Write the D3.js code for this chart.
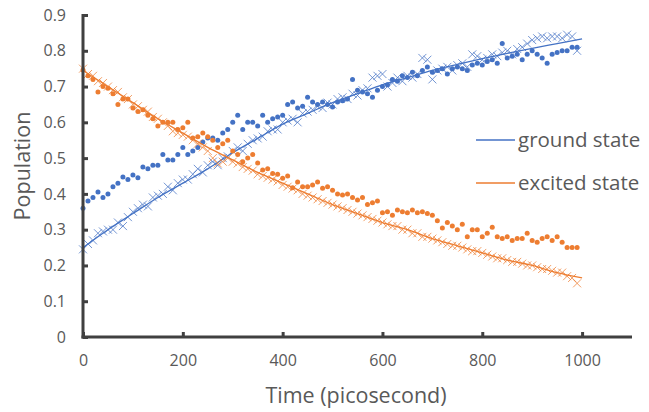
<!DOCTYPE html>
<html>
<head>
<meta charset="utf-8">
<script src="https://cdn.jsdelivr.net/npm/d3@7"></script>
<style>
  html, body { margin: 0; padding: 0; background: #fff; }
  svg text { font-family: "Open Sans", "DejaVu Sans", sans-serif; }
</style>
</head>
<body>
<svg id="chart" width="649" height="412"></svg>
<script>
// ---- data ----
const times = d3.range(0, 1000, 10); // 0, 10, ..., 990 ps sample times
const groundDots = [0.36,0.38,0.39,0.405,0.39,0.40,0.42,0.43,0.447,0.44,
  0.453,0.445,0.475,0.47,0.48,0.48,0.51,0.495,0.495,0.51,
  0.53,0.51,0.52,0.53,0.545,0.556,0.556,0.55,0.57,0.58,
  0.60,0.62,0.58,0.60,0.60,0.59,0.62,0.60,0.61,0.615,
  0.62,0.65,0.657,0.64,0.645,0.67,0.657,0.65,0.657,0.65,
  0.643,0.657,0.66,0.665,0.72,0.69,0.685,0.68,0.67,0.69,
  0.70,0.705,0.72,0.715,0.73,0.725,0.74,0.73,0.745,0.755,
  0.74,0.745,0.75,0.735,0.75,0.755,0.75,0.745,0.76,0.765,
  0.76,0.77,0.775,0.765,0.82,0.78,0.785,0.79,0.775,0.79,
  0.80,0.79,0.78,0.765,0.79,0.795,0.80,0.80,0.81,0.81];
const groundCross = [0.245,0.26,0.27,0.29,0.295,0.30,0.30,0.32,0.31,0.335,
  0.35,0.36,0.37,0.365,0.39,0.395,0.40,0.42,0.41,0.43,
  0.44,0.44,0.455,0.47,0.46,0.48,0.49,0.48,0.50,0.505,
  0.52,0.53,0.52,0.54,0.55,0.555,0.56,0.575,0.58,0.58,
  0.60,0.605,0.61,0.60,0.625,0.63,0.635,0.645,0.64,0.655,
  0.65,0.665,0.67,0.665,0.68,0.675,0.69,0.695,0.725,0.73,
  0.735,0.70,0.71,0.725,0.715,0.73,0.725,0.735,0.78,0.775,
  0.72,0.745,0.75,0.755,0.745,0.76,0.765,0.755,0.79,0.785,
  0.775,0.78,0.79,0.785,0.795,0.80,0.79,0.805,0.81,0.82,
  0.83,0.835,0.84,0.835,0.84,0.84,0.835,0.845,0.84,0.80];
const excitedDots = [0.746,0.73,0.72,0.685,0.70,0.695,0.68,0.65,0.665,0.665,
  0.64,0.63,0.635,0.62,0.61,0.59,0.60,0.60,0.60,0.58,
  0.585,0.60,0.556,0.56,0.57,0.56,0.55,0.53,0.54,0.55,
  0.52,0.51,0.49,0.50,0.51,0.486,0.467,0.47,0.457,0.455,
  0.444,0.45,0.417,0.433,0.42,0.42,0.425,0.433,0.416,0.42,
  0.41,0.40,0.397,0.40,0.39,0.383,0.39,0.37,0.375,0.38,
  0.347,0.35,0.34,0.355,0.35,0.347,0.355,0.347,0.35,0.345,
  0.34,0.325,0.305,0.32,0.31,0.30,0.315,0.28,0.30,0.30,
  0.28,0.29,0.307,0.28,0.275,0.28,0.27,0.275,0.275,0.29,
  0.27,0.265,0.275,0.28,0.27,0.28,0.265,0.25,0.25,0.25];
const excitedCross = [0.75,0.735,0.73,0.715,0.71,0.70,0.69,0.685,0.67,0.665,
  0.65,0.645,0.635,0.63,0.615,0.61,0.60,0.59,0.575,0.57,
  0.565,0.56,0.55,0.54,0.53,0.52,0.50,0.485,0.49,0.50,
  0.49,0.485,0.475,0.47,0.465,0.455,0.45,0.445,0.44,0.435,
  0.425,0.42,0.415,0.41,0.40,0.395,0.39,0.385,0.38,0.375,
  0.37,0.365,0.36,0.355,0.35,0.345,0.34,0.335,0.33,0.325,
  0.32,0.315,0.31,0.31,0.30,0.30,0.29,0.29,0.28,0.28,
  0.275,0.27,0.265,0.26,0.255,0.255,0.25,0.245,0.24,0.24,
  0.235,0.23,0.225,0.22,0.22,0.215,0.21,0.21,0.205,0.20,
  0.20,0.195,0.19,0.19,0.185,0.18,0.18,0.17,0.165,0.15];
// fitted curves
const fitTimes = [0,50,100,150,200,250,300,350,400,450,500,550,600,650,700,750,800,850,900,950,1000];
const groundFit = [0.25,0.30,0.345,0.39,0.43,0.47,0.515,0.555,0.595,0.625,0.655,0.68,0.705,0.725,0.745,0.762,0.778,0.793,0.807,0.82,0.833];
const excitedFit = [0.745,0.70,0.655,0.61,0.57,0.53,0.495,0.46,0.43,0.40,0.37,0.345,0.32,0.30,0.275,0.255,0.235,0.215,0.20,0.18,0.165];
const xTicks = [0,200,400,600,800,1000];
const yTicks = [0,0.1,0.2,0.3,0.4,0.5,0.6,0.7,0.8,0.9];
const legendLabels = ["ground state", "excited state"];
const colors = ["#4472C4", "#ED7D31"];
const xTitle = "Time (picosecond)";
const yTitle = "Population";

// ---- drawing ----
const svg = d3.select("#chart");
const x = d3.scaleLinear().domain([0, 1100]).range([83, 632]);
const y = d3.scaleLinear().domain([0, 0.9]).range([337, 15]);
const axisColor = "#404040";
const textColor = "#595959";

// series
const series = [
  {dots: groundDots, cross: groundCross, fit: groundFit, color: colors[0]},
  {dots: excitedDots, cross: excitedCross, fit: excitedFit, color: colors[1]}
];
const line = d3.line().curve(d3.curveMonotoneX).x(d => x(d[0])).y(d => y(d[1]));

series.forEach(s => {
  const g = svg.append("g");
  // crosses
  const cs = 4;
  g.selectAll("path.cross").data(times.map((t, i) => [t, s.cross[i]])).join("path")
    .attr("class", "cross")
    .attr("d", d => {
      const cx = x(d[0]), cy = y(d[1]);
      return `M${cx-cs},${cy-cs}L${cx+cs},${cy+cs}M${cx-cs},${cy+cs}L${cx+cs},${cy-cs}`;
    })
    .attr("stroke", s.color).attr("stroke-width", 1).attr("stroke-opacity", 0.75).attr("fill", "none");
  // fit line
  g.append("path").datum(fitTimes.map((t, i) => [t, s.fit[i]]))
    .attr("d", line).attr("fill", "none").attr("stroke", s.color).attr("stroke-width", 1.3);
  // dots
  g.selectAll("circle").data(times.map((t, i) => [t, s.dots[i]])).join("circle")
    .attr("cx", d => x(d[0])).attr("cy", d => y(d[1])).attr("r", 2.5)
    .attr("fill", s.color);
});

// axes
const yAxis = d3.axisLeft(y).tickValues(yTicks).tickFormat(d => d === 0 ? "0" : d3.format(".1f")(d))
  .tickSizeInner(-5).tickSizeOuter(0).tickPadding(17);
const gy = svg.append("g").attr("transform", "translate(83,0)").call(yAxis);
const xAxis = d3.axisBottom(x).tickValues(xTicks).tickFormat(d3.format("d"))
  .tickSizeInner(-5).tickSizeOuter(0).tickPadding(18);
const gx = svg.append("g").attr("transform", "translate(0,337)").call(xAxis);
[gx, gy].forEach(g => {
  g.select(".domain").attr("stroke", axisColor).attr("stroke-width", 3);
  g.selectAll(".tick line").attr("stroke", axisColor).attr("stroke-width", 3);
  g.selectAll(".tick text").attr("fill", textColor).style("font-size", "16px");
});
gy.select(".domain").attr("d", `M0,${y(0.9)-1}V${y(0)+1.5}`);
gx.select(".domain").attr("d", `M${x(0)-1.5},0H${x(1100)}`);

// titles
svg.append("text").attr("x", 356).attr("y", 403).attr("text-anchor", "middle")
  .attr("fill", textColor).style("font-size", "21.5px").text(xTitle);
svg.append("text").attr("transform", "translate(30,166) rotate(-90)").attr("text-anchor", "middle")
  .attr("fill", textColor).style("font-size", "21.5px").text(yTitle);

// legend
const lg = svg.append("g");
legendLabels.forEach((lab, i) => {
  const ly = 140 + i * 43;
  lg.append("line").attr("x1", 476).attr("x2", 515).attr("y1", ly).attr("y2", ly)
    .attr("stroke", colors[i]).attr("stroke-width", 1.3);
  lg.append("text").attr("x", 518).attr("y", ly).attr("dy", "0.35em")
    .attr("fill", textColor).style("font-size", "20.5px").text(lab);
});
</script>
</body>
</html>
